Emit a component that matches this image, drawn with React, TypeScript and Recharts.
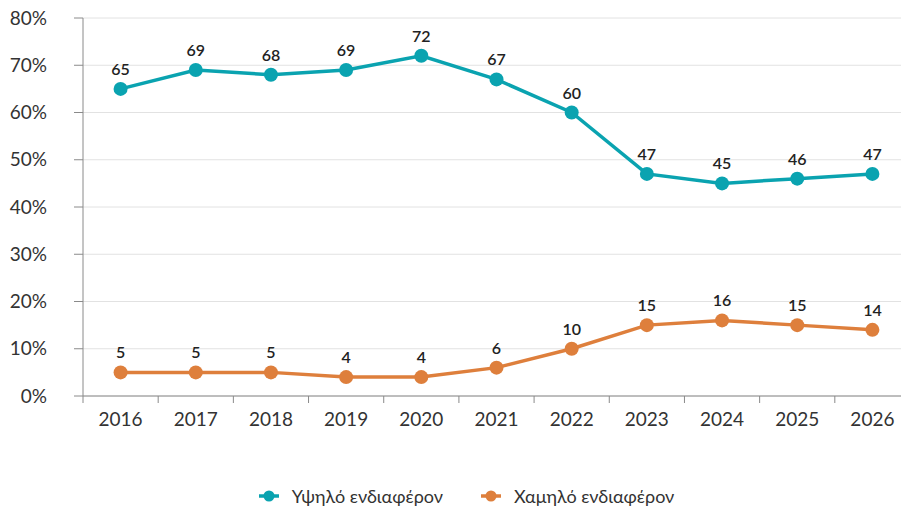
import { CartesianGrid, LabelList, Legend, Line, LineChart, XAxis, YAxis } from 'recharts'

const years = ['2016', '2017', '2018', '2019', '2020', '2021', '2022', '2023', '2024', '2025', '2026']
const highInterest = [65, 69, 68, 69, 72, 67, 60, 47, 45, 46, 47]
const lowInterest = [5, 5, 5, 4, 4, 6, 10, 15, 16, 15, 14]
const yTicks = [0, 10, 20, 30, 40, 50, 60, 70, 80]

const HIGH = 'Υψηλό ενδιαφέρον'
const LOW = 'Χαμηλό ενδιαφέρον'
const TEAL = '#0aa3b0'
const ORANGE = '#de7f3c'
const FONT = 'Lato, "Noto Sans", sans-serif'
const AXIS = '#8a8a8a'

const CHART_W = 920
const Y_W = 83
const RIGHT = 10
const BAND = (CHART_W - Y_W - RIGHT) / years.length
const TICK = 7
const TICK_GAP = 10

const data = years.map((y, i) => ({ year: y, [HIGH]: highInterest[i], [LOW]: lowInterest[i] }))

// tick marks sit between the categories, like a bar-style category axis
function YearTick(props: any) {
  const { x, y, payload, index } = props
  const top = y - TICK - TICK_GAP
  return (
    <g>
      <line x1={x - BAND / 2} x2={x - BAND / 2} y1={top} y2={top + TICK} stroke={AXIS} />
      {index === years.length - 1 && (
        <line x1={x + BAND / 2} x2={x + BAND / 2} y1={top} y2={top + TICK} stroke={AXIS} />
      )}
      <text x={x} y={y} dy="0.71em" textAnchor="middle" fill="#333" fontSize={19} fontFamily={FONT}>
        {payload.value}
      </text>
    </g>
  )
}

function LegendContent() {
  const items = [
    { name: HIGH, color: TEAL },
    { name: LOW, color: ORANGE },
  ]
  return (
    <div
      style={{
        display: 'flex',
        justifyContent: 'center',
        gap: 38,
        paddingLeft: 32,
        paddingTop: 49,
        boxSizing: 'border-box',
        fontFamily: FONT,
        fontSize: 18,
        color: '#333',
        width: 901,
      }}
    >
      {items.map((it) => (
        <div key={it.name} style={{ display: 'flex', alignItems: 'center', gap: 13 }}>
          <svg width={20} height={14}>
            <line x1={0} y1={7} x2={20} y2={7} stroke={it.color} strokeWidth={3.5} />
            <circle cx={10} cy={7} r={5.5} fill={it.color} />
          </svg>
          <span>{it.name}</span>
        </div>
      ))}
    </div>
  )
}

export default function App() {
  return (
    <div style={{ position: 'fixed', left: 0, top: 0, width: 901, height: 510, overflow: 'hidden', background: '#fff' }}>
      <LineChart width={CHART_W} height={510} data={data} margin={{ top: 18, right: RIGHT, bottom: 2, left: 0 }}>
        <CartesianGrid vertical={false} stroke="#e2e2e2" />
        <XAxis
          dataKey="year"
          height={40}
          padding={{ left: BAND / 2, right: BAND / 2 }}
          stroke={AXIS}
          tickLine={{ stroke: 'none' }}
          tickSize={TICK}
          tickMargin={TICK_GAP}
          tick={<YearTick />}
          interval={0}
        />
        <YAxis
          width={Y_W}
          domain={[0, 80]}
          ticks={yTicks}
          stroke={AXIS}
          tickSize={9}
          tickMargin={27}
          tickFormatter={(v: number) => `${v}%`}
          tick={{ fill: '#333', fontSize: 19, fontFamily: FONT }}
        />
        <Legend verticalAlign="bottom" height={72} content={<LegendContent />} wrapperStyle={{ left: 0 }} />
        <Line
          dataKey={HIGH}
          stroke={TEAL}
          strokeWidth={3.5}
          dot={{ r: 7, fill: TEAL, stroke: TEAL, strokeWidth: 0 }}
          isAnimationActive={false}
        >
          <LabelList dataKey={HIGH} position="top" offset={14} fill="#222" fontSize={16} fontWeight={600} fontFamily={FONT} />
        </Line>
        <Line
          dataKey={LOW}
          stroke={ORANGE}
          strokeWidth={3.5}
          dot={{ r: 7, fill: ORANGE, stroke: ORANGE, strokeWidth: 0 }}
          isAnimationActive={false}
        >
          <LabelList dataKey={LOW} position="top" offset={14} fill="#222" fontSize={16} fontWeight={600} fontFamily={FONT} />
        </Line>
      </LineChart>
    </div>
  )
}
